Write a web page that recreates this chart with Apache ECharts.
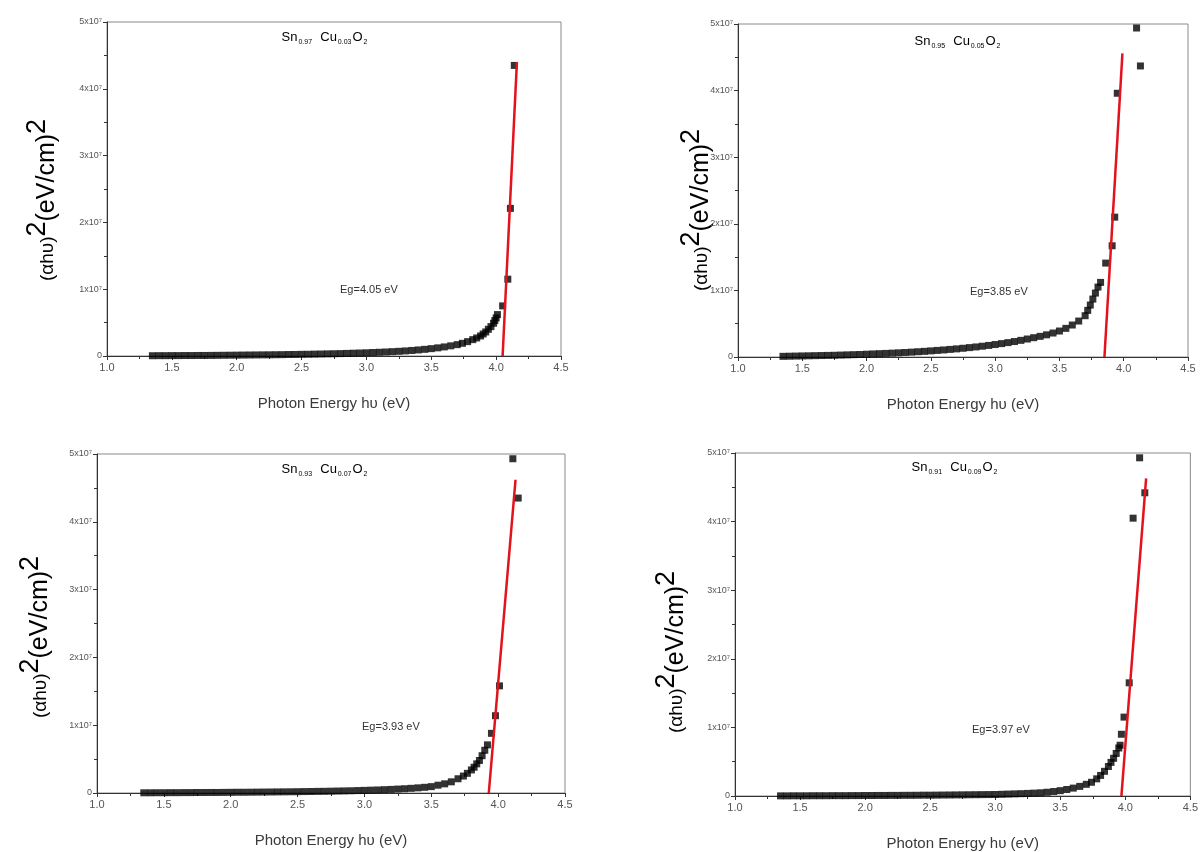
<!DOCTYPE html>
<html>
<head>
<meta charset="utf-8">
<script src="https://cdn.jsdelivr.net/npm/echarts@6/dist/echarts.min.js"></script>
<style>
  html, body { margin: 0; padding: 0; background: #fff; }
  #chart { width: 1201px; height: 852px; }
</style>
</head>
<body>
<div id="chart"></div>
<script>
// Tauc plots, (αhυ)² in units of 10⁷ (eV/cm)² versus photon energy (eV)

// x tick labels and y tick labels
const X_TICKS = ['1.0', '1.5', '2.0', '2.5', '3.0', '3.5', '4.0', '4.5'];
const Y_TICKS = ['0', '1x10⁷', '2x10⁷', '3x10⁷', '4x10⁷', '5x10⁷'];

// common energy grid of the low-absorption tail
const ENERGY = [1.35, 1.40, 1.45, 1.50, 1.55, 1.60, 1.65, 1.70, 1.75, 1.80,
                1.85, 1.90, 1.95, 2.00, 2.05, 2.10, 2.15, 2.20, 2.25, 2.30,
                2.35, 2.40, 2.45, 2.50, 2.55, 2.60, 2.65, 2.70, 2.75, 2.80,
                2.85, 2.90, 2.95, 3.00, 3.05, 3.10, 3.15, 3.20, 3.25, 3.30,
                3.35, 3.40, 3.45, 3.50, 3.55, 3.60, 3.65, 3.70];

// Sn0.97Cu0.03O2
const S1_TAIL = [0.004, 0.005, 0.005, 0.006, 0.006, 0.007, 0.007, 0.008, 0.008, 0.009,
                 0.010, 0.011, 0.012, 0.013, 0.014, 0.015, 0.016, 0.017, 0.018, 0.019,
                 0.020, 0.022, 0.023, 0.025, 0.026, 0.028, 0.030, 0.032, 0.034, 0.036,
                 0.039, 0.042, 0.045, 0.048, 0.052, 0.056, 0.060, 0.065, 0.070, 0.076,
                 0.083, 0.091, 0.100, 0.110, 0.122, 0.136, 0.152, 0.170];
const S1_EDGE_X = [3.74, 3.78, 3.82, 3.85, 3.88, 3.90, 3.92, 3.94, 3.96, 3.98, 3.99, 4.00, 4.01, 4.05, 4.09, 4.11, 4.14];
const S1_EDGE_Y = [0.19, 0.215, 0.245, 0.27, 0.30, 0.33, 0.36, 0.40, 0.44, 0.49, 0.53, 0.57, 0.62, 0.75, 1.15, 2.21, 4.35];

// Sn0.95Cu0.05O2
const S2_TAIL = [0.010, 0.012, 0.014, 0.016, 0.018, 0.020, 0.022, 0.024, 0.026, 0.029,
                 0.032, 0.035, 0.038, 0.042, 0.046, 0.050, 0.054, 0.058, 0.063, 0.068,
                 0.073, 0.079, 0.085, 0.092, 0.099, 0.106, 0.114, 0.122, 0.131, 0.141,
                 0.151, 0.162, 0.174, 0.187, 0.201, 0.216, 0.232, 0.250, 0.270, 0.290,
                 0.310, 0.333, 0.360, 0.390, 0.430, 0.480, 0.540, 0.620];
const S2_EDGE_X = [3.72, 3.74, 3.76, 3.78, 3.80, 3.82, 3.86, 3.91, 3.93, 3.95, 4.10, 4.13];
const S2_EDGE_Y = [0.70, 0.78, 0.87, 0.96, 1.05, 1.12, 1.41, 1.67, 2.10, 3.96, 4.94, 4.37];

// Sn0.93Cu0.07O2
const S3_TAIL = [0.003, 0.003, 0.004, 0.004, 0.005, 0.005, 0.006, 0.006, 0.007, 0.007,
                 0.008, 0.008, 0.009, 0.010, 0.011, 0.011, 0.012, 0.013, 0.014, 0.015,
                 0.016, 0.017, 0.018, 0.019, 0.021, 0.022, 0.024, 0.025, 0.027, 0.029,
                 0.031, 0.033, 0.036, 0.039, 0.042, 0.045, 0.049, 0.053, 0.058, 0.063,
                 0.069, 0.076, 0.084, 0.094, 0.115, 0.135, 0.165, 0.210];
const S3_EDGE_X = [3.74, 3.77, 3.80, 3.82, 3.84, 3.86, 3.88, 3.90, 3.92, 3.95, 3.98, 4.01, 4.11, 4.15];
const S3_EDGE_Y = [0.25, 0.29, 0.34, 0.38, 0.43, 0.48, 0.55, 0.63, 0.71, 0.88, 1.14, 1.58, 4.93, 4.35];

// Sn0.91Cu0.09O2
const S4_TAIL = [0.002, 0.002, 0.003, 0.003, 0.003, 0.004, 0.004, 0.004, 0.005, 0.005,
                 0.005, 0.006, 0.006, 0.007, 0.007, 0.008, 0.008, 0.009, 0.009, 0.010,
                 0.010, 0.011, 0.012, 0.012, 0.013, 0.014, 0.015, 0.016, 0.017, 0.018,
                 0.019, 0.020, 0.021, 0.022, 0.025, 0.028, 0.031, 0.034, 0.038, 0.042,
                 0.047, 0.055, 0.065, 0.078, 0.095, 0.115, 0.140, 0.170];
const S4_EDGE_X = [3.74, 3.78, 3.81, 3.84, 3.87, 3.89, 3.91, 3.93, 3.95, 3.96, 3.97, 3.99, 4.03, 4.06, 4.11, 4.15];
const S4_EDGE_Y = [0.20, 0.25, 0.30, 0.36, 0.43, 0.49, 0.55, 0.62, 0.70, 0.74, 0.90, 1.15, 1.65, 4.05, 4.93, 4.42];

// band-gap values (x-intercept of the linear fit) and upper end of each fit line
const EG = [4.05, 3.85, 3.93, 3.97];
const FIT_TOP_X = [4.16, 3.99, 4.13, 4.16];
const FIT_TOP_Y = [4.40, 4.56, 4.62, 4.63];

// composition subscripts
const SN_FRAC = ['0.97', '0.95', '0.93', '0.91'];
const CU_FRAC = ['0.03', '0.05', '0.07', '0.09'];

const TAILS = [S1_TAIL, S2_TAIL, S3_TAIL, S4_TAIL];
const EDGES_X = [S1_EDGE_X, S2_EDGE_X, S3_EDGE_X, S4_EDGE_X];
const EDGES_Y = [S1_EDGE_Y, S2_EDGE_Y, S3_EDGE_Y, S4_EDGE_Y];

// panel layout
const GRIDS = [
  { left: 107, top: 22,  width: 454, height: 334 },
  { left: 738, top: 24,  width: 450, height: 333 },
  { left: 97,  top: 454, width: 468, height: 339 },
  { left: 735, top: 453, width: 458, height: 343 }
];
const YTITLE_POS = [[42, 200], [696, 210], [35, 637], [671, 652]];
const FORMULA_POS = [[325, 38], [958, 42], [325, 470], [955, 468]];
const EG_POS = [[340, 290], [970, 292], [362, 727], [972, 730]];

const FONT = '"Liberation Sans", Arial, sans-serif';

const chart = echarts.init(document.getElementById('chart'), null, { renderer: 'canvas' });

const grid = [], xAxis = [], yAxis = [], series = [], graphic = [];

GRIDS.forEach((g, i) => {
  grid.push(Object.assign({ show: true, borderColor: '#8a8a8a', borderWidth: 1, backgroundColor: 'transparent' }, g));

  xAxis.push({
    gridIndex: i, type: 'value', min: 1.0, max: 4.5, interval: 0.5,
    name: 'Photon Energy hυ (eV)', nameLocation: 'middle', nameGap: 40,
    nameTextStyle: { fontFamily: FONT, fontSize: 15, color: '#3a3a3a' },
    axisLine: { lineStyle: { color: '#333', width: 1 } },
    axisTick: { inside: false, length: 4, lineStyle: { color: '#333' } },
    minorTick: { show: true, splitNumber: 2, length: 3, lineStyle: { color: '#333' } },
    splitLine: { show: false },
    axisLabel: {
      fontFamily: FONT, fontSize: 11, color: '#555', margin: 6,
      formatter: v => X_TICKS[Math.round((v - 1.0) / 0.5)]
    }
  });

  yAxis.push({
    gridIndex: i, type: 'value', min: 0, max: 5, interval: 1,
    axisLine: { show: true, lineStyle: { color: '#333', width: 1 } },
    axisTick: { inside: false, length: 4, lineStyle: { color: '#333' } },
    minorTick: { show: true, splitNumber: 2, length: 3, lineStyle: { color: '#333' } },
    splitLine: { show: false },
    axisLabel: {
      fontFamily: FONT, fontSize: 9, color: '#555', margin: 5,
      formatter: v => Y_TICKS[Math.round(v)]
    }
  });

  const pts = ENERGY.map((e, k) => [e, TAILS[i][k]])
    .concat(EDGES_X[i].map((e, k) => [e, EDGES_Y[i][k]]));

  series.push({
    type: 'scatter', xAxisIndex: i, yAxisIndex: i,
    symbol: 'rect', symbolSize: 7,
    itemStyle: { color: '#000' },
    data: pts, silent: true, z: 2
  });

  series.push({
    type: 'line', xAxisIndex: i, yAxisIndex: i,
    showSymbol: false, symbol: 'none',
    lineStyle: { color: '#e3121b', width: 2.5 },
    data: [[EG[i], 0], [FIT_TOP_X[i], FIT_TOP_Y[i]]],
    silent: true, z: 3
  });

  graphic.push({
    type: 'text', x: YTITLE_POS[i][0], y: YTITLE_POS[i][1], rotation: Math.PI / 2,
    style: {
      text: '{a|(αhυ)}{b|2}{c|(eV/cm)}{b|2}',
      align: 'center', verticalAlign: 'middle',
      rich: {
        a: { fontFamily: FONT, fontSize: 19, color: '#333', lineHeight: 36, verticalAlign: 'bottom', padding: [0, 0, 3, 0] },
        b: { fontFamily: FONT, fontSize: 27, color: '#333', lineHeight: 36, verticalAlign: 'top' },
        c: { fontFamily: FONT, fontSize: 25, color: '#333', lineHeight: 36, verticalAlign: 'bottom' }
      }
    }
  });

  graphic.push({
    type: 'text', x: FORMULA_POS[i][0], y: FORMULA_POS[i][1],
    style: {
      text: '{m|Sn}{s|' + SN_FRAC[i] + '}{m|  Cu}{s|' + CU_FRAC[i] + '}{m|O}{s|2}',
      align: 'center', verticalAlign: 'middle',
      rich: {
        m: { fontFamily: FONT, fontSize: 13, color: '#444', lineHeight: 15, verticalAlign: 'top' },
        s: { fontFamily: FONT, fontSize: 7, color: '#666', lineHeight: 15, verticalAlign: 'bottom', padding: [0, 1, 0, 1] }
      }
    }
  });

  graphic.push({
    type: 'text', x: EG_POS[i][0], y: EG_POS[i][1],
    style: {
      text: 'Eg=' + EG[i].toFixed(2) + ' eV',
      fontFamily: FONT, fontSize: 11, fill: '#333',
      align: 'left', verticalAlign: 'middle'
    }
  });
});

chart.setOption({
  animation: false,
  backgroundColor: '#fff',
  grid, xAxis, yAxis, series, graphic
});
</script>
</body>
</html>
